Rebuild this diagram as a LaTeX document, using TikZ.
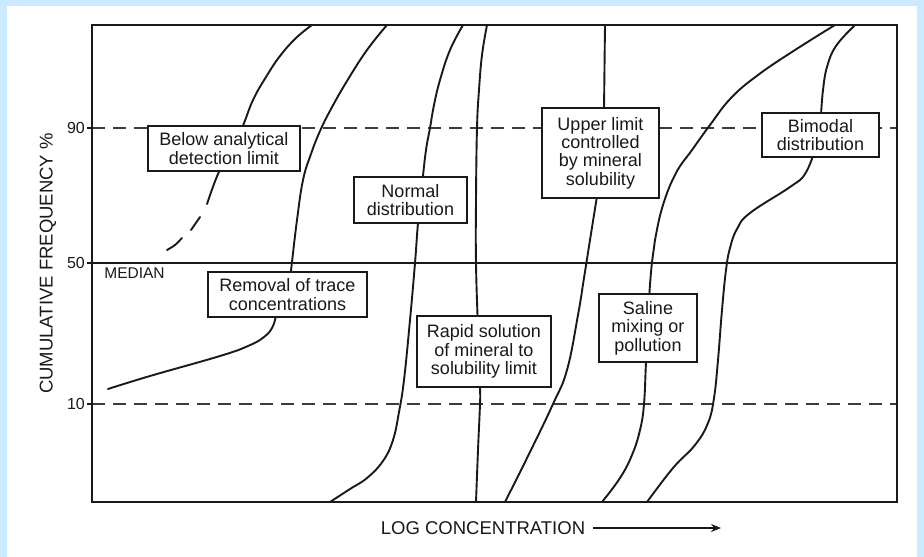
\documentclass[tikz,border=0pt]{standalone}
\usepackage{fontspec}
\setmainfont{Liberation Sans}
\usetikzlibrary{arrows.meta}
\definecolor{bgblue}{RGB}{204,234,255}
\definecolor{ink}{RGB}{25,25,25}
\tikzset{
  labelbox/.style={draw=ink, line width=1.4pt, fill=white, inner sep=0pt, align=center, text=ink,
    font=\fontsize{18}{18.4}\selectfont},
  curve/.style={draw=ink, line width=1.9pt, line cap=round, line join=round},
  guide/.style={draw=ink!85, line width=1.1pt, dash pattern=on 13pt off 8pt},
  axisnum/.style={text=ink, font=\fontsize{16}{16}\selectfont, inner sep=0pt},
  axislabel/.style={text=ink, font=\fontsize{18.5}{18.5}\selectfont, inner sep=0pt}
}
\begin{document}
\begin{tikzpicture}[x=1pt,y=-1pt]
\useasboundingbox (0,0) rectangle (924,557);
\fill[bgblue] (0,0) rectangle (924,557);
\fill[white] (7,6) rectangle (917,557);

% frame and guide lines
\draw[guide] (92,128) -- (897,128);
\draw[guide] (92,404) -- (897,404);
\draw[draw=ink, line width=1.3pt] (92,263) -- (897,263);
\draw[draw=ink, line width=1.6pt] (92,25) rectangle (897,502);
\foreach \yy in {128,263,404} \draw[draw=ink, line width=1.3pt] (87,\yy) -- (92,\yy);

% curves
\draw[curve] plot[smooth, tension=0.7] coordinates {(312,25) (296,38) (280,56) (266,77) (253,100) (242,128) (230,152) (218,174) (207,204)};
\draw[curve] (200,217) -- (191,230);
\draw[curve] plot[smooth, tension=0.6] coordinates {(182,238) (175,245) (167,250)};

\draw[curve] plot[smooth, tension=0.7] coordinates {(387,25) (367,50) (347,81) (331,109) (320,131) (311,154) (303,180) (297,220) (292,262) (290,280)};
\draw[curve] plot[smooth, tension=0.7] coordinates {(277,310) (273,326) (264,337) (248,346) (220,356) (150,376) (108,389)};

\draw[curve] plot[smooth, tension=0.7] coordinates {(463,25) (450,50) (440,80) (434,105) (430,128) (426,150) (422,185) (418,223) (415,263) (410,320) (404,380) (399,412) (393,440) (383,461) (367,478) (350,489) (330,502)};

\draw[curve] plot[smooth, tension=0.7] coordinates {(487,25) (482,55) (479,90) (477,128) (476,200) (476,263) (478,330) (480,388) (480,404) (478,450) (476,502)};

\draw[curve] (605,25) -- (604,110);
\draw[curve] plot[smooth, tension=0.7] coordinates {(598,190) (590,240) (584,278) (578,315) (567,370) (553,404) (530,452) (505,502)};

\draw[curve] plot[smooth, tension=0.7] coordinates {(835,25) (795,50) (758,75) (731,98) (710,125) (692,150) (676,173) (663,205) (655,240) (652,262) (649,300) (646,362) (644,404) (640,430) (632,455) (620,478) (602,502)};

\draw[curve] plot[smooth, tension=0.7] coordinates {(855,25) (836,46) (827,67) (823,90) (821,115)};
\draw[curve] plot[smooth, tension=0.7] coordinates {(815,150) (805,174) (790,187) (750,213) (737,229) (730,248) (726,270) (722,310) (718,360) (714,398) (708,423) (695,445) (673,468) (647,502)};

% boxes
\node[labelbox, minimum width=152pt, minimum height=45pt] (below) at (224,148.5) {Below analytical\\detection limit};
\node[labelbox, minimum width=113pt, minimum height=46pt] (normal) at (410.5,200) {Normal\\distribution};
\node[labelbox, minimum width=159pt, minimum height=45pt] (removal) at (287.5,294.5) {Removal of trace\\concentrations};
\node[labelbox, minimum width=134pt, minimum height=71pt] (rapid) at (484,351.5) {Rapid solution\\of mineral to\\solubility limit};
\node[labelbox, minimum width=117pt, minimum height=90pt] (upper) at (600.5,153) {Upper limit\\controlled\\by mineral\\solubility};
\node[labelbox, minimum width=117pt, minimum height=44pt] (bimodal) at (820.5,135) {Bimodal\\distribution};
\node[labelbox, minimum width=98pt, minimum height=68pt] (saline) at (648,328) {Saline\\mixing or\\pollution};

% axis labels
\node[axisnum] (n90) at (76,128) {90};
\node[axisnum] (n50) at (76,263) {50};
\node[axisnum] (n10) at (76,404) {10};
\node[axisnum, font=\fontsize{15.5}{15.5}\selectfont] (median) at (134.5,273.5) {MEDIAN};
\node[axislabel, rotate=90] (ylab) at (48,263.5) {CUMULATIVE FREQUENCY \%};
\node[axislabel] (xlab) at (483,528) {LOG CONCENTRATION};
\coordinate (arrowend) at (721,528);
\draw[draw=ink, line width=1.8pt, -{Stealth[length=10pt,width=8pt]}] (xlab.east) ++(8pt,0) -- (arrowend);
\end{tikzpicture}
\end{document}
